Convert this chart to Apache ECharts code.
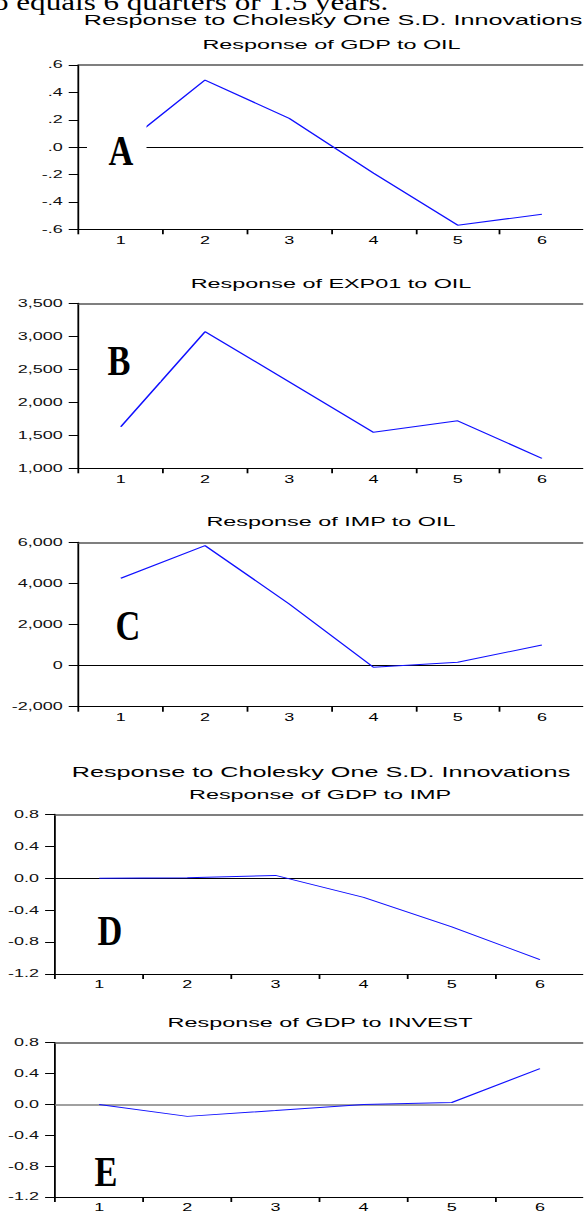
<!DOCTYPE html>
<html>
<head>
<meta charset="utf-8">
<script src="https://cdn.jsdelivr.net/npm/echarts@6/dist/echarts.min.js"></script>
<style>
  html, body { margin: 0; padding: 0; background: #fff; overflow: hidden; }
  #wrap { width: 584px; height: 1213px; overflow: hidden; position: relative; }
  #chart { position: absolute; left: 0; top: 0; height: 1213px; transform-origin: 0 0; }
</style>
</head>
<body>
<div id="wrap"><div id="chart"></div></div>
<script>
// ---- data ----
const periods = ['1', '2', '3', '4', '5', '6'];
const gdpToOil = [0.0, 0.49, 0.21, -0.19, -0.57, -0.49];
const exp01ToOil = [1630, 3070, 2310, 1545, 1720, 1150];
const impToOil = [4250, 5840, 3000, -80, 165, 1000];
const gdpToImp = [0.0, 0.005, 0.035, -0.24, -0.61, -1.02];
const gdpToInvest = [0.0, -0.155, -0.08, 0.0, 0.025, 0.465];

const mainTitle = 'Response to Cholesky One S.D. Innovations';
const panelTitles = ['Response of GDP to OIL', 'Response of EXP01 to OIL', 'Response of IMP to OIL',
                     'Response of GDP to IMP', 'Response of GDP to INVEST'];
const panelLetters = ['A', 'B', 'C', 'D', 'E'];
const docText = 'o equals 6 quarters or 1.5 years.';

// ---- horizontal stretch of the original picture ----
const S = 1.8;
const W = 584 / S;
const L = x => x / S;
const el = document.getElementById('chart');
el.style.width = W + 'px';
el.style.transform = 'scaleX(' + S + ')';

const fmtDot = v => {
  if (Math.abs(v) < 1e-9) return '.0';
  const s = Math.abs(v).toFixed(1).replace(/^0/, '');
  return (v < 0 ? '-' : '') + s;
};
const fmtComma = v => Math.round(v).toLocaleString('en-US');
const fmtOne = v => (Math.abs(v) < 1e-9 ? '0.0' : v.toFixed(1));

const SANS = '"Liberation Sans", Arial, Helvetica, sans-serif';
const SERIF = '"Liberation Serif", "Times New Roman", serif';

const panels = [
  { left: 78.7, top: 65, bottom: 229.3, min: -0.6, max: 0.6, interval: 0.2, fmt: fmtDot, data: gdpToOil,
    tx: 331.5, ty: 44.5, zc: '#000', zw: 1, lx: 121, ly: 150 },
  { left: 78.7, top: 303.3, bottom: 468.3, min: 1000, max: 3500, interval: 500, fmt: fmtComma, data: exp01ToOil,
    tx: 331, ty: 283.3, zc: null, zw: 1, lx: 119, ly: 360 },
  { left: 78.7, top: 542.3, bottom: 706.7, min: -2000, max: 6000, interval: 2000, fmt: fmtComma, data: impToOil,
    tx: 331, ty: 521.7, zc: '#000', zw: 1, lx: 128, ly: 625 },
  { left: 55.1, top: 814.3, bottom: 974, min: -1.2, max: 0.8, interval: 0.4, fmt: fmtOne, data: gdpToImp,
    tx: 320, ty: 794.3, zc: '#000', zw: 1, lx: 110, ly: 930 },
  { left: 55.1, top: 1042.7, bottom: 1203.3, min: -1.2, max: 0.8, interval: 0.4, fmt: fmtOne, data: gdpToInvest,
    tx: 320, ty: 1022.7, zc: '#808080', zw: 1.5, lx: 106, ly: 1171 }
];

const grid = [], xAxis = [], yAxis = [], series = [], graphic = [];

panels.forEach((p, i) => {
  grid.push({ left: L(p.left), right: 0, top: p.top, height: p.bottom - p.top, containLabel: false });
  xAxis.push({
    type: 'category', data: periods, gridIndex: i, position: 'bottom', boundaryGap: true,
    axisLine: { show: true, onZero: false, lineStyle: { color: '#000', width: 1 } },
    axisTick: { show: true, length: 5, lineStyle: { color: '#000', width: 1 } },
    axisLabel: { show: true, margin: 6, fontSize: 10, fontFamily: SANS, color: '#000' },
    splitLine: { show: false }
  });
  xAxis.push({
    type: 'category', data: periods, gridIndex: i, position: 'top', boundaryGap: true,
    axisLine: { show: true, onZero: false, lineStyle: { color: '#555', width: 1.5 } },
    axisTick: { show: false }, axisLabel: { show: false }, splitLine: { show: false }
  });
  yAxis.push({
    type: 'value', gridIndex: i, min: p.min, max: p.max, interval: p.interval,
    axisLine: { show: true, onZero: false, lineStyle: { color: '#000', width: 1 } },
    axisTick: { show: true, length: L(10), lineStyle: { color: '#000', width: 1 } },
    axisLabel: { show: true, margin: L(16), fontSize: 10, fontFamily: SANS, color: '#111', formatter: p.fmt },
    splitLine: { show: false }
  });
  const s = {
    type: 'line', xAxisIndex: 2 * i, yAxisIndex: i, data: p.data,
    symbol: 'none', showSymbol: false, z: 3,
    lineStyle: { color: '#1010ff', width: 1 }, animation: false, silent: true
  };
  if (p.zc) {
    s.markLine = {
      silent: true, symbol: 'none', animation: false, z: 2,
      label: { show: false },
      lineStyle: { color: p.zc, width: p.zw, type: 'solid' },
      data: [{ yAxis: 0 }]
    };
  }
  series.push(s);

  graphic.push({
    type: 'text', x: L(p.tx), y: p.ty, z: 50,
    style: { text: panelTitles[i], fill: '#000', font: '13px ' + SANS,
             align: 'center', verticalAlign: 'middle', textAlign: 'center', textVerticalAlign: 'middle' }
  });
  graphic.push({
    type: 'text', x: L(p.lx), y: p.ly, z: 102, scaleX: 0.8 / S, scaleY: 1,
    style: { text: panelLetters[i], fill: '#000', font: 'bold 43px ' + SERIF,
             align: 'center', verticalAlign: 'middle', textAlign: 'center', textVerticalAlign: 'middle' }
  });
});

// white boxes behind the letters A and B (they hide part of the lines)
graphic.push({ type: 'rect', z: 101, shape: { x: L(87), y: 122, width: L(146.5) - L(87), height: 50 },
               style: { fill: '#fff' } });
graphic.push({ type: 'rect', z: 101, shape: { x: L(92), y: 334, width: L(160.5) - L(92), height: 47.5 },
               style: { fill: '#fff' } });

// main titles
graphic.push({ type: 'text', x: L(333), y: 20, z: 50,
  style: { text: mainTitle, fill: '#000', font: '14px ' + SANS,
           align: 'center', verticalAlign: 'middle', textAlign: 'center', textVerticalAlign: 'middle' } });
graphic.push({ type: 'text', x: L(321), y: 771.7, z: 50,
  style: { text: mainTitle, fill: '#000', font: '14px ' + SANS,
           align: 'center', verticalAlign: 'middle', textAlign: 'center', textVerticalAlign: 'middle' } });
// document text cut at the top
graphic.push({ type: 'text', x: L(-7), y: 2, z: 50, scaleX: 0.72,
  style: { text: docText, fill: '#000', font: '24px ' + SERIF,
           align: 'left', verticalAlign: 'middle', textAlign: 'left', textVerticalAlign: 'middle' } });

const chart = echarts.init(el, null, { renderer: 'svg', width: W, height: 1213 });
chart.setOption({
  animation: false,
  backgroundColor: '#fff',
  grid, xAxis, yAxis, series, graphic
});
</script>
</body>
</html>
